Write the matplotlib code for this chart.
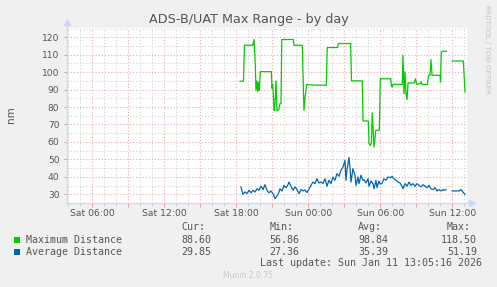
import numpy as np
import matplotlib
matplotlib.use("Agg")
import matplotlib.pyplot as plt
from matplotlib.patches import Rectangle
from matplotlib.ticker import MultipleLocator, FixedLocator, FixedFormatter

# ---- data (time in hours since Sat 00:00) ----
max_t = [18.31, 18.60, 18.68, 19.37, 19.48, 19.58, 19.64, 19.73, 19.78, 19.85, 19.92, 20.00,
         20.92, 20.98, 21.03, 21.08, 21.14, 21.20, 21.25, 21.31, 21.39, 21.48, 21.56, 21.64,
         21.73, 21.79, 22.75, 22.81, 23.50, 23.64, 23.72, 23.87, 24.75, 25.50, 25.58, 26.45,
         26.50, 27.53, 27.60, 28.50, 28.56, 29.00, 29.06, 29.18, 29.27, 29.33, 29.42, 29.48,
         29.56, 29.62, 29.92, 30.00, 30.87, 30.93, 31.00, 31.06, 31.83, 31.89, 31.98, 32.06,
         32.14, 32.23, 32.31, 32.83, 32.93, 33.02, 33.08, 33.31, 33.39, 33.48, 33.92, 34.02,
         34.14, 34.23, 34.31, 34.98, 35.02, 35.08, 35.18, 35.53, 35.80, 36.00, 36.92, 37.06]
max_v = [94.8, 94.8, 115.4, 115.4, 118.7, 105.0, 89.6, 95.0, 89.0, 94.0, 89.6, 100.3,
         100.3, 90.7, 93.0, 88.7, 78.0, 78.0, 85.0, 95.0, 78.0, 78.0, 79.0, 82.0,
         82.0, 118.7, 118.7, 115.4, 115.4, 78.1, 85.0, 92.9, 92.5, 92.5, 114.1, 114.1,
         116.4, 116.4, 95.0, 95.0, 72.0, 72.0, 59.0, 58.0, 60.0, 76.7, 65.0, 57.0,
         62.0, 66.7, 66.7, 96.2, 96.2, 92.0, 91.5, 93.0, 93.0, 109.7, 87.7, 100.1,
         88.0, 84.3, 93.8, 93.8, 96.2, 93.5, 93.0, 93.5, 94.5, 93.0, 93.0, 98.2,
         98.2, 107.2, 98.2, 98.2, 94.4, 111.6, 112.0, 112.0, np.nan, 106.4, 106.4, 88.6]

avg_t = [18.39, 18.56, 18.73, 18.89, 19.06, 19.23, 19.39, 19.56, 19.73, 19.89, 20.06, 20.23,
         20.39, 20.56, 20.73, 20.89, 21.06, 21.23, 21.37, 21.50, 21.64, 21.81, 21.98, 22.14,
         22.28, 22.39, 22.56, 22.73, 22.89, 23.06, 23.23, 23.39, 23.56, 23.72, 23.89, 24.06,
         24.22, 24.39, 24.56, 24.72, 24.89, 25.06, 25.22, 25.39, 25.56, 25.72, 25.89, 26.06,
         26.22, 26.39, 26.56, 26.72, 26.89, 27.06, 27.14, 27.22, 27.39, 27.47, 27.56, 27.72,
         27.89, 27.98, 28.14, 28.23, 28.39, 28.56, 28.64, 28.81, 28.98, 29.06, 29.23, 29.39,
         29.48, 29.64, 29.73, 29.89, 29.98, 30.14, 30.31, 30.48, 30.64, 30.81, 30.98, 31.14,
         31.31, 31.48, 31.64, 31.81, 31.89, 32.06, 32.23, 32.39, 32.56, 32.73, 32.89, 33.06,
         33.23, 33.39, 33.56, 33.73, 33.89, 34.06, 34.23, 34.39, 34.56, 34.73, 34.89, 35.06,
         35.23, 35.31, 35.48, 35.80, 35.98, 36.31, 36.56, 36.73, 36.89, 37.06]
avg_v = [34.2, 30.0, 31.3, 30.4, 32.3, 30.8, 32.3, 31.3, 33.2, 32.3, 34.6, 32.7,
         35.5, 32.3, 30.8, 31.9, 30.4, 27.5, 28.9, 30.0, 33.2, 31.9, 35.1, 33.8,
         35.1, 37.0, 34.6, 32.3, 34.2, 32.7, 30.4, 32.7, 31.9, 32.5, 31.0, 33.0,
         35.1, 37.0, 36.1, 38.9, 36.5, 37.0, 36.1, 38.9, 34.6, 38.0, 36.1, 39.9,
         38.0, 41.8, 40.3, 43.7, 45.6, 49.4, 38.0, 43.7, 51.1, 45.6, 37.0, 44.7,
         40.9, 35.1, 39.9, 36.1, 40.9, 38.0, 38.4, 36.5, 38.9, 34.6, 37.6, 36.1,
         33.2, 38.0, 33.8, 37.6, 36.0, 36.1, 38.9, 38.0, 39.9, 39.5, 40.3, 38.9,
         38.0, 37.0, 36.5, 34.6, 33.2, 36.1, 34.6, 37.0, 35.1, 36.1, 34.6, 36.1,
         35.1, 34.2, 35.5, 34.6, 33.8, 35.1, 33.2, 32.7, 33.8, 31.9, 32.7, 31.9,
         32.7, 32.3, 32.7, np.nan, 31.9, 31.9, 31.9, 32.7, 31.3, 29.85]

tick_hours = [6, 12, 18, 24, 30, 36]
tick_labels = ["Sat 06:00", "Sat 12:00", "Sat 18:00", "Sun 00:00", "Sun 06:00", "Sun 12:00"]
series_names = ["Maximum Distance", "Average Distance"]
series_colors = ["#00cc00", "#0066b3"]
stat_headers = ["Cur:", "Min:", "Avg:", "Max:"]
stats_max = ["88.60", "56.86", "98.84", "118.50"]
stats_avg = ["29.85", "27.36", "35.39", "51.19"]
title = "ADS-B/UAT Max Range - by day"
last_update = "Last update: Sun Jan 11 13:05:16 2026"

W, H = 497, 287
fig = plt.figure(figsize=(W / 100, H / 100), dpi=100, facecolor="#f0f0f0")
ax = fig.add_axes([66.7 / W, 1 - 203 / H, 400 / W, 175 / H])
ax.set_facecolor("white")

ax.plot(max_t, max_v, color=series_colors[0], lw=0.9, zorder=3)
ax.plot(avg_t, avg_v, color=series_colors[1], lw=0.9, zorder=3)

ax.set_xlim(3.87, 37.2)
ax.set_ylim(25.0, 125.3)

# x ticks: majors every 3h (labels every 6h), minors every 1h
maj = list(np.arange(6, 37.1, 3))
labels = [tick_labels[tick_hours.index(int(m))] if int(m) in tick_hours else "" for m in maj]
ax.xaxis.set_major_locator(FixedLocator(maj))
ax.xaxis.set_major_formatter(FixedFormatter(labels))
ax.xaxis.set_minor_locator(MultipleLocator(1))
ax.yaxis.set_major_locator(MultipleLocator(10))
ax.yaxis.set_minor_locator(MultipleLocator(5))
ax.set_yticks(np.arange(30, 121, 10))

fc = "#555555"
ax.tick_params(axis="x", which="major", length=3, width=0.7, color="#e89a9a",
               labelsize=6.7, labelcolor=fc, pad=1.5, direction="out")
ax.tick_params(axis="x", which="minor", length=2, width=0.7, color="#c8c8c8", direction="out")
ax.tick_params(axis="y", which="major", length=2, width=0.7, color="#b0b0b0",
               labelsize=6.6, labelcolor=fc, pad=3.2, direction="out")
ax.tick_params(axis="y", which="minor", length=0)

ax.set_axisbelow(True)
ax.grid(which="major", color="#eca4a4", linestyle=(0, (1, 2)), lw=0.75)
ax.grid(which="minor", color="#cfcfcf", linestyle=(0, (1, 2)), lw=0.75)

for s in ["top", "right"]:
    ax.spines[s].set_visible(False)
for s in ["left", "bottom"]:
    ax.spines[s].set_color("#cfd6f8")
    ax.spines[s].set_linewidth(0.9)

# arrows
ax.plot([0], [1.035], marker="^", color="#cfd6f8", markersize=5, transform=ax.transAxes, clip_on=False)
ax.plot([0, 0], [1.0, 1.03], color="#cfd6f8", lw=0.9, transform=ax.transAxes, clip_on=False)
ax.plot([1.0, 1.012], [0, 0], color="#cfd6f8", lw=0.9, transform=ax.transAxes, clip_on=False)
ax.plot([1.012], [0], marker=">", color="#cfd6f8", markersize=5, transform=ax.transAxes, clip_on=False)

def ft(x, y, s, **kw):
    fig.text(x / W, 1 - y / H, s, **kw)

ft(248.5, 19, title, ha="center", va="center", fontsize=9.2, color=fc)
ft(11, 115, "nm", ha="center", va="center", rotation=90, fontsize=7.5, color=fc)
ft(487, 5, "RRDTOOL / TOBI OETIKER", ha="center", va="top", rotation=270,
   fontsize=5.0, color="#c4c4c4")

mono = dict(family="DejaVu Sans Mono", fontsize=7.2, color=fc, va="center")
col_x = [181, 269.3, 358.3, 446.7]
for cx, hdr in zip(col_x, stat_headers):
    ft(cx, 227.3, hdr, ha="left", **mono)
rows_y = [239.7, 251.7]
for ry, name, col, stats in zip(rows_y, series_names, series_colors, [stats_max, stats_avg]):
    fig.patches.append(Rectangle((14 / W, 1 - (ry + 3) / H), 6 / W, 6 / H,
                                 transform=fig.transFigure, facecolor=col, edgecolor="none"))
    ft(26, ry, name, ha="left", **mono)
    for i, (cx, val) in enumerate(zip(col_x, stats)):
        if i == 3:
            ft(477, ry, val, ha="right", **mono)
        else:
            ft(cx, ry, val, ha="left", **mono)
ft(482.3, 263.3, last_update, ha="right", **mono)
ft(248, 276, "Munin 2.0.75", ha="center", va="center", fontsize=5.5, color="#c8c8c8")

fig.savefig("out.png", dpi=100, facecolor=fig.get_facecolor())
